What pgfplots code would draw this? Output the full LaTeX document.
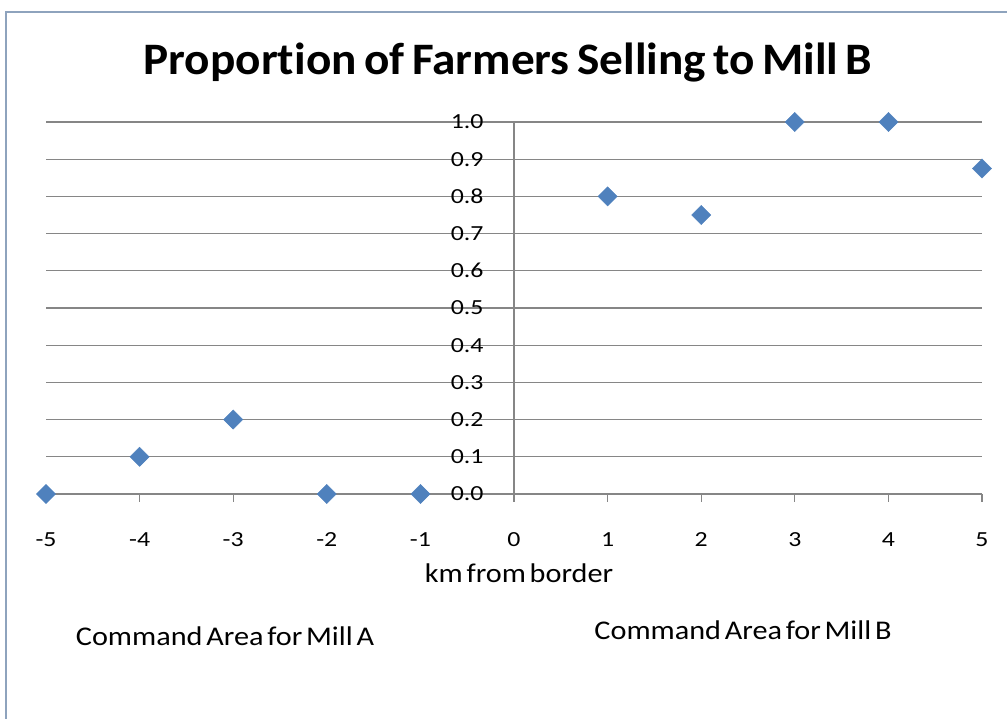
\documentclass[border=0pt]{standalone}
\usepackage{fontspec}
\setmainfont{Carlito}[FakeStretch=1.12, WordSpace=0.55, Ligatures=NoCommon]
\newfontfamily\tickfont{Carlito}[FakeStretch=1.2, Ligatures=NoCommon]
\newfontfamily\titlefont{Carlito}[FakeStretch=1.05, WordSpace=0.7, Ligatures=NoCommon]
\usepackage{pgfplots}
\pgfplotsset{compat=1.18}
\definecolor{mk}{HTML}{4F81BD}
\definecolor{gr}{HTML}{868686}
\definecolor{bd}{HTML}{8EA3BD}
\begin{document}
\begin{tikzpicture}[x=1pt,y=1pt]
\path[use as bounding box] (0,0) rectangle (1007,719);
\draw[bd, line width=2.5pt] (6,707) rectangle (1030,-30);
\node[anchor=base, inner sep=0pt, font=\titlefont\bfseries\fontsize{45}{52}\selectfont] at (508,644) {Proportion of Farmers Selling to Mill B};
\begin{axis}[at={(46pt,225pt)}, anchor=south west, scale only axis,
  width=936pt, height=372pt,
  xmin=-5, xmax=5, ymin=0, ymax=1,
  axis x line=bottom, axis y line=center,
  hide obscured x ticks=false, hide obscured y ticks=false,
  axis line style={-, draw=gr, line width=1.3pt},
  x axis line style={-}, y axis line style={-},
  xtick={-5,-4,-3,-2,-1,0,1,2,3,4,5},
  xticklabels={-5,-4,-3,-2,-1,0,1,2,3,4,5},
  ytick={0,0.1,0.2,0.3,0.4,0.5,0.6,0.7,0.8,0.9,1},
  yticklabels={0.0,0.1,0.2,0.3,0.4,0.5,0.6,0.7,0.8,0.9,1.0},
  ymajorgrids, grid style={gr, line width=1.3pt},
  tick align=outside, major tick length=8pt,
  x tick style={gr, line width=1.3pt},
  y tick style={draw=none},
  tick label style={font=\tickfont\fontsize{21.5}{24}\selectfont},
  xticklabel style={anchor=base, yshift=-45pt},
  yticklabel style={anchor=east, xshift=-19pt},
  clip=false,
]
\addplot[only marks, mark=square*, mark size=6.8pt,
  mark options={fill=mk, draw=mk, rotate=45}]
  coordinates {(-5,0)(-4,0.1)(-3,0.2)(-2,0)(-1,0)(1,0.8)(2,0.75)(3,1)(4,1)(5,0.875)};
\end{axis}
\node[anchor=base, inner sep=0pt, font=\fontsize{27}{31}\selectfont] at (519,136) {km from border};
\node[anchor=base, inner sep=0pt, font=\fontsize{27}{31}\selectfont] at (225,73) {Command Area for Mill A};
\node[anchor=base, inner sep=0pt, font=\fontsize{27}{31}\selectfont] at (743,79) {Command Area for Mill B};
\end{tikzpicture}
\end{document}
